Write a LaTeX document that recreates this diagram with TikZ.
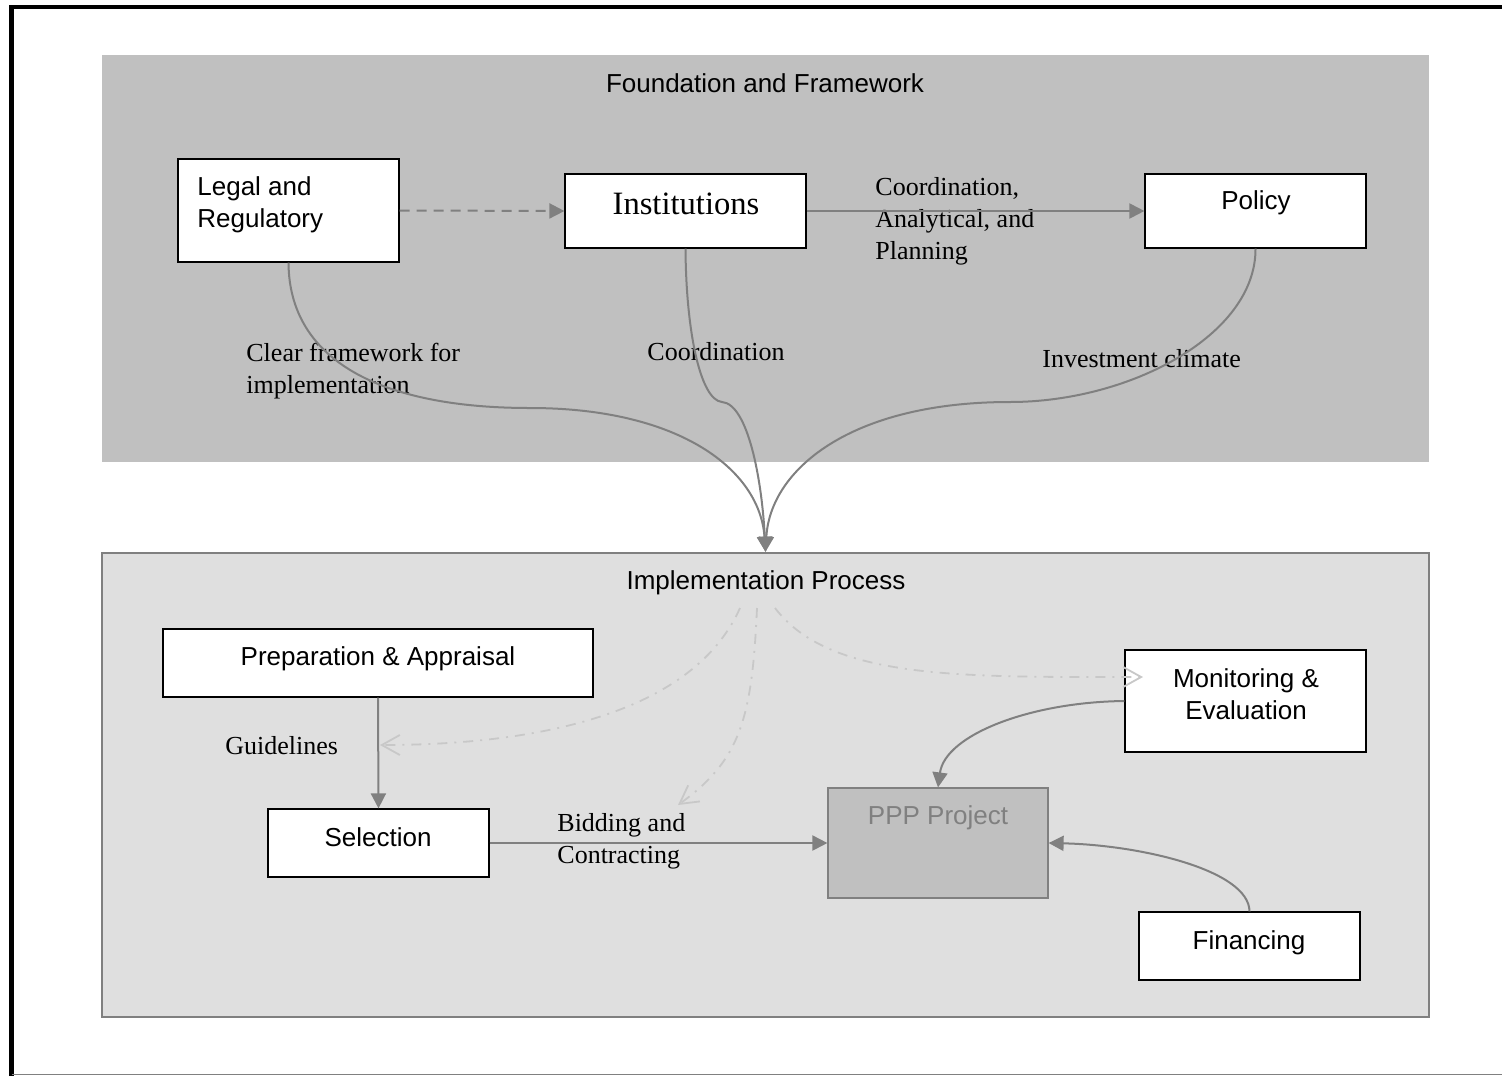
\documentclass[tikz,border=0pt]{standalone}
\usepackage{fontspec}
\setmainfont{Liberation Serif}
\setsansfont{Liberation Sans}
\usetikzlibrary{arrows.meta}
\definecolor{panelgray}{HTML}{C0C0C0}
\definecolor{lightpanel}{HTML}{DFDFDF}
\definecolor{linegray}{HTML}{808080}
\definecolor{hintgray}{HTML}{C8C8C8}

\begin{document}
\begin{tikzpicture}[x=0.5pt,y=-0.5pt,
  sans/.style={font=\sffamily\fontsize{13}{16}\selectfont,inner sep=0pt},
  serif/.style={font=\fontsize{13}{16}\selectfont,inner sep=0pt},
  bigserif/.style={font=\fontsize{16.3}{19}\selectfont,inner sep=0pt},
  box/.style={draw=black,line width=0.6pt,fill=white,inner sep=0pt},
  flow/.style={draw=linegray,line width=1pt,-{Triangle[length=7.5pt,width=7.5pt]}},
  hint/.style={draw=hintgray,line width=0.9pt,dash pattern=on 5pt off 3.5pt on 1pt off 3.5pt,
    -{Straight Barb[length=9pt,width=10pt]}}]
\useasboundingbox (0,0) rectangle (1502,1076);
\draw[line width=2.4pt] (11.7,1076) |- (1502,7);
\draw[linegray,line width=0.6pt] (11.7,1074.5) -- (1502,1074.5);

\node[fill=panelgray,minimum width=663.5pt,minimum height=203.5pt,inner sep=0pt] (found) at (765.5,258.5) {};
\node[fill=lightpanel,draw=linegray,line width=1.2pt,minimum width=663.5pt,minimum height=232pt,inner sep=0pt] (impl) at (765.5,785) {};
\node[sans] (foundtitle) at (765,83) {Foundation and Framework};
\node[sans] (impltitle) at (766,583) {Implementation Process};

\node[box,minimum width=110.5pt,minimum height=51.5pt] (legal) at (288.5,210.5) {};
\node[box,minimum width=120.5pt,minimum height=37pt] (inst) at (685.5,211) {};
\node[box,minimum width=110.5pt,minimum height=37pt] (policy) at (1255.5,211) {};
\node[box,minimum width=215pt,minimum height=34pt] (prep) at (378,663) {};
\node[box,minimum width=110.5pt,minimum height=34pt] (sel) at (378.5,843) {};
\node[box,minimum width=120.5pt,minimum height=51pt] (mon) at (1245.5,701) {};
\node[box,draw=linegray,fill=panelgray,minimum width=110pt,minimum height=55pt] (ppp) at (938,843) {};
\node[box,minimum width=110.5pt,minimum height=34pt] (fin) at (1249.5,946) {};

\node[sans,align=left,anchor=west] (legaltext) at (197,205) {Legal and\\Regulatory};
\node[bigserif] (insttext) at (686,204) {Institutions};
\node[sans] (policytext) at (1256,203) {Policy};
\node[serif,align=left,anchor=west] (coordtext) at (875,221) {Coordination,\\Analytical, and\\Planning};
\node[serif,align=left,anchor=west] (cleartext) at (246,371) {Clear framework for\\implementation};
\node[serif,anchor=west] (coord2text) at (647,352) {Coordination};
\node[serif,anchor=west] (climatetext) at (1042,359) {Investment climate};
\node[sans] (preptext) at (378,659) {Preparation \& Appraisal};
\node[sans] (seltext) at (378,837) {Selection};
\node[serif,anchor=west] (guidetext) at (225,746) {Guidelines};
\node[sans,align=center] (montext) at (1246,694) {Monitoring \&\\Evaluation};
\node[sans,text=linegray] (ppptext) at (938,818) {PPP Project};
\node[sans] (fintext) at (1249,943) {Financing};
\node[serif,align=left,anchor=west] (bidtext) at (557,841) {Bidding and\\Contracting};

\draw[flow,dash pattern=on 5pt off 3.5pt] (legal.east) -- (inst.west);
\draw[flow] (inst.east) -- (policy.west);
\draw[flow] (legal.south) .. controls (289,360) and (380,408) .. (530,408) .. controls (680,408) and (760,470) .. (impl.north);
\draw[flow] (inst.south) .. controls (686,330) and (700,400) .. (722,402) .. controls (748,404) and (762,480) .. (impl.north);
\draw[flow] (policy.south) .. controls (1256,335) and (1130,402) .. (1010,402) .. controls (850,402) and (770,470) .. (impl.north);

\draw[flow] (prep.south) -- (sel.north);
\draw[flow] (sel.east) -- (ppp.west);
\draw[flow] (mon.west) .. controls (1030,702) and (945,735) .. (ppp.north);
\draw[flow] (fin.north) .. controls (1249,870) and (1140,845) .. (ppp.east);

\coordinate (h1) at (740,608);
\coordinate (h2) at (757,608);
\coordinate (h3) at (775,608);
\coordinate (guidetip) at (380,745);
\coordinate (bidtip) at (678,805);
\coordinate (montip) at (1143,677);
\draw[hint] (h1) .. controls (690,720) and (520,745) .. (guidetip);
\draw[hint] (h2) .. controls (752,720) and (740,760) .. (bidtip);
\draw[hint] (h3) .. controls (830,680) and (960,677) .. (montip);
\end{tikzpicture}
\end{document}
